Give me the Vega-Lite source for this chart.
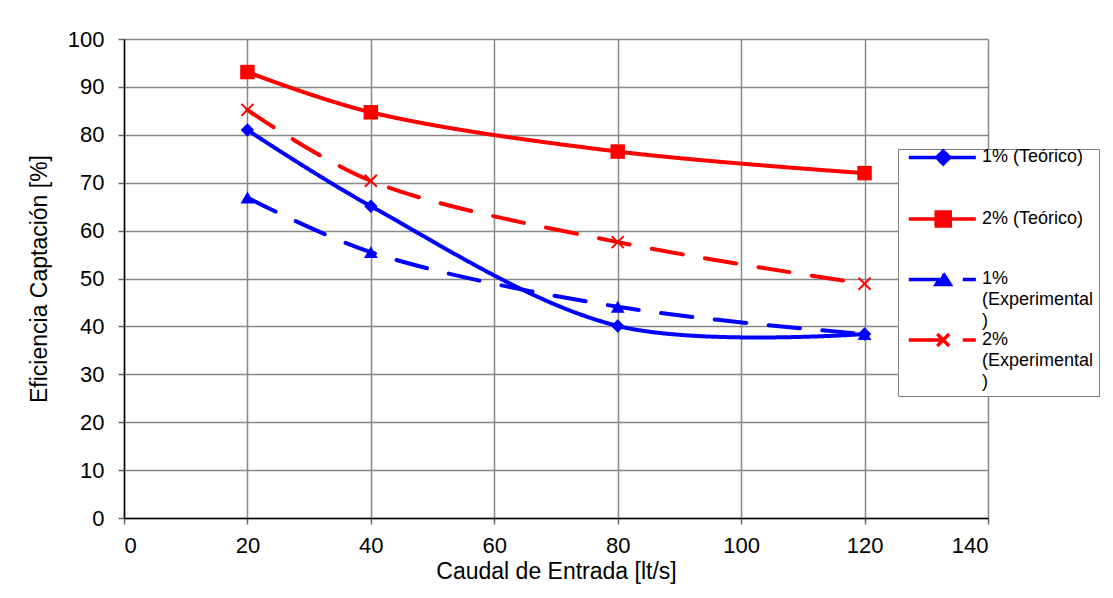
{
  "$schema": "https://vega.github.io/schema/vega-lite/v6.json",
  "width": 864,
  "height": 479,
  "autosize": {"type": "none"},
  "padding": {"left": 124, "top": 39, "right": 125, "bottom": 80},
  "background": "white",
  "config": {
    "font": "Liberation Sans",
    "view": {"stroke": null},
    "axis": {
      "labelFont": "Liberation Sans",
      "titleFont": "Liberation Sans",
      "labelFontSize": 22,
      "titleFontSize": 23,
      "titleFontWeight": "normal",
      "labelColor": "black",
      "titleColor": "black",
      "domainColor": "black",
      "domainWidth": 1.5,
      "tickColor": "#666666",
      "tickSize": 6,
      "tickWidth": 1.5,
      "gridColor": "#888888",
      "gridWidth": 1.5
    },
    "legend": {
      "labelFont": "Liberation Sans",
      "labelFontSize": 18,
      "labelColor": "black",
      "labelLimit": 300
    }
  },
  "data": {
    "values": [
      {"serie": "1% (Teórico)", "caudal": 20, "ef": 81.0},
      {"serie": "1% (Teórico)", "caudal": 40, "ef": 65.1},
      {"serie": "1% (Teórico)", "caudal": 80, "ef": 40.1},
      {"serie": "1% (Teórico)", "caudal": 120, "ef": 38.4},
      {"serie": "2% (Teórico)", "caudal": 20, "ef": 93.1},
      {"serie": "2% (Teórico)", "caudal": 40, "ef": 84.7},
      {"serie": "2% (Teórico)", "caudal": 80, "ef": 76.5},
      {"serie": "2% (Teórico)", "caudal": 120, "ef": 72.0},
      {"serie": "1% (Experimental)", "caudal": 20, "ef": 66.9},
      {"serie": "1% (Experimental)", "caudal": 40, "ef": 55.5},
      {"serie": "1% (Experimental)", "caudal": 80, "ef": 44.1},
      {"serie": "1% (Experimental)", "caudal": 120, "ef": 38.4},
      {"serie": "2% (Experimental)", "caudal": 20, "ef": 85.2},
      {"serie": "2% (Experimental)", "caudal": 40, "ef": 70.4},
      {"serie": "2% (Experimental)", "caudal": 80, "ef": 57.6},
      {"serie": "2% (Experimental)", "caudal": 120, "ef": 48.9}
    ]
  },
  "encoding": {
    "x": {
      "field": "caudal",
      "type": "quantitative",
      "scale": {"domain": [0, 140], "nice": false},
      "axis": {"values": [0, 20, 40, 60, 80, 100, 120, 140], "title": "Caudal de Entrada [lt/s]", "labelPadding": 11, "titlePadding": 4}
    },
    "y": {
      "field": "ef",
      "type": "quantitative",
      "scale": {"domain": [0, 100], "nice": false},
      "axis": {"values": [0, 10, 20, 30, 40, 50, 60, 70, 80, 90, 100], "title": "Eficiencia Captación [%]", "labelPadding": 14, "titlePadding": 16}
    }
  },
  "layer": [
    {
      "mark": {"type": "line", "interpolate": "catmull-rom", "strokeWidth": 4, "strokeCap": "round"},
      "encoding": {
        "color": {
          "field": "serie",
          "type": "nominal",
          "scale": {
            "domain": ["1% (Teórico)", "2% (Teórico)", "1% (Experimental)", "2% (Experimental)"],
            "range": ["#0000FF", "#FF0000", "#0000FF", "#FF0000"]
          },
          "legend": {
            "title": null,
            "orient": "none",
            "legendX": 774,
            "legendY": 110,
            "padding": 5,
            "strokeColor": "#808080",
            "fillColor": "white",
            "symbolSize": 1806,
            "symbolStrokeWidth": 3.5,
            "labelOffset": 33,
            "rowPadding": -3.5,
            "labelBaseline": "top",
            "labelExpr": "indexof(datum.label, 'Experimental') >= 0 ? [slice(datum.label, 0, 2), slice(datum.label, 3, 16) + '  ', ')'] : [datum.label, ' ', ' ']",
            "encode": {
              "symbols": {
                "update": {
                  "shape": {"signal": "datum.value == '1% (Teórico)' ? 'M-0.81,-0.92L2.345,-0.92M0.81,-1.226L1.116,-0.92L0.81,-0.614L0.504,-0.92Z' : datum.value == '2% (Teórico)' ? 'M-0.81,-0.92L2.345,-0.92M0.48,-1.25L1.14,-1.25L1.14,-0.59L0.48,-0.59Z' : datum.value == '1% (Experimental)' ? 'M-0.81,-0.92L2.345,-0.92M0.81,-1.2L1.14,-0.685L0.48,-0.685Z' : 'M-0.81,-0.92L2.345,-0.92M0.53,-1.2L1.09,-0.64M0.53,-0.64L1.09,-1.2'"},
                  "fill": {"signal": "datum.value == '1% (Teórico)' || datum.value == '1% (Experimental)' ? '#0000FF' : '#FF0000'"},
                  "stroke": {"signal": "datum.value == '1% (Teórico)' || datum.value == '1% (Experimental)' ? '#0000FF' : '#FF0000'"},
                  "opacity": {"value": 1}
                }
              },
              "labels": {
                "update": {
                  "lineHeight": {"value": 21},
                  "dy": {"value": -29}
                }
              }
            }
          }
        },
        "strokeDash": {
          "field": "serie",
          "type": "nominal",
          "scale": {
            "domain": ["1% (Teórico)", "2% (Teórico)", "1% (Experimental)", "2% (Experimental)"],
            "range": [[1, 0], [1, 0], [31.5, 22.5], [31.5, 22.5]]
          }
        }
      }
    },
    {
      "transform": [{"filter": "datum.serie == '1% (Teórico)'"}],
      "mark": {"type": "point", "shape": "diamond", "filled": true, "opacity": 1, "size": 180, "color": "#0000FF"}
    },
    {
      "transform": [{"filter": "datum.serie == '2% (Teórico)'"}],
      "mark": {"type": "point", "shape": "square", "filled": true, "opacity": 1, "size": 210, "color": "#FF0000"}
    },
    {
      "transform": [{"filter": "datum.serie == '1% (Experimental)'"}],
      "mark": {"type": "point", "shape": "triangle-up", "filled": true, "opacity": 1, "size": 190, "color": "#0000FF"}
    },
    {
      "transform": [{"filter": "datum.serie == '2% (Experimental)'"}],
      "mark": {"type": "point", "shape": "M-1,-1L1,1M-1,1L1,-1", "filled": false, "opacity": 1, "size": 144, "strokeWidth": 2, "color": "#FF0000"}
    }
  ]
}
